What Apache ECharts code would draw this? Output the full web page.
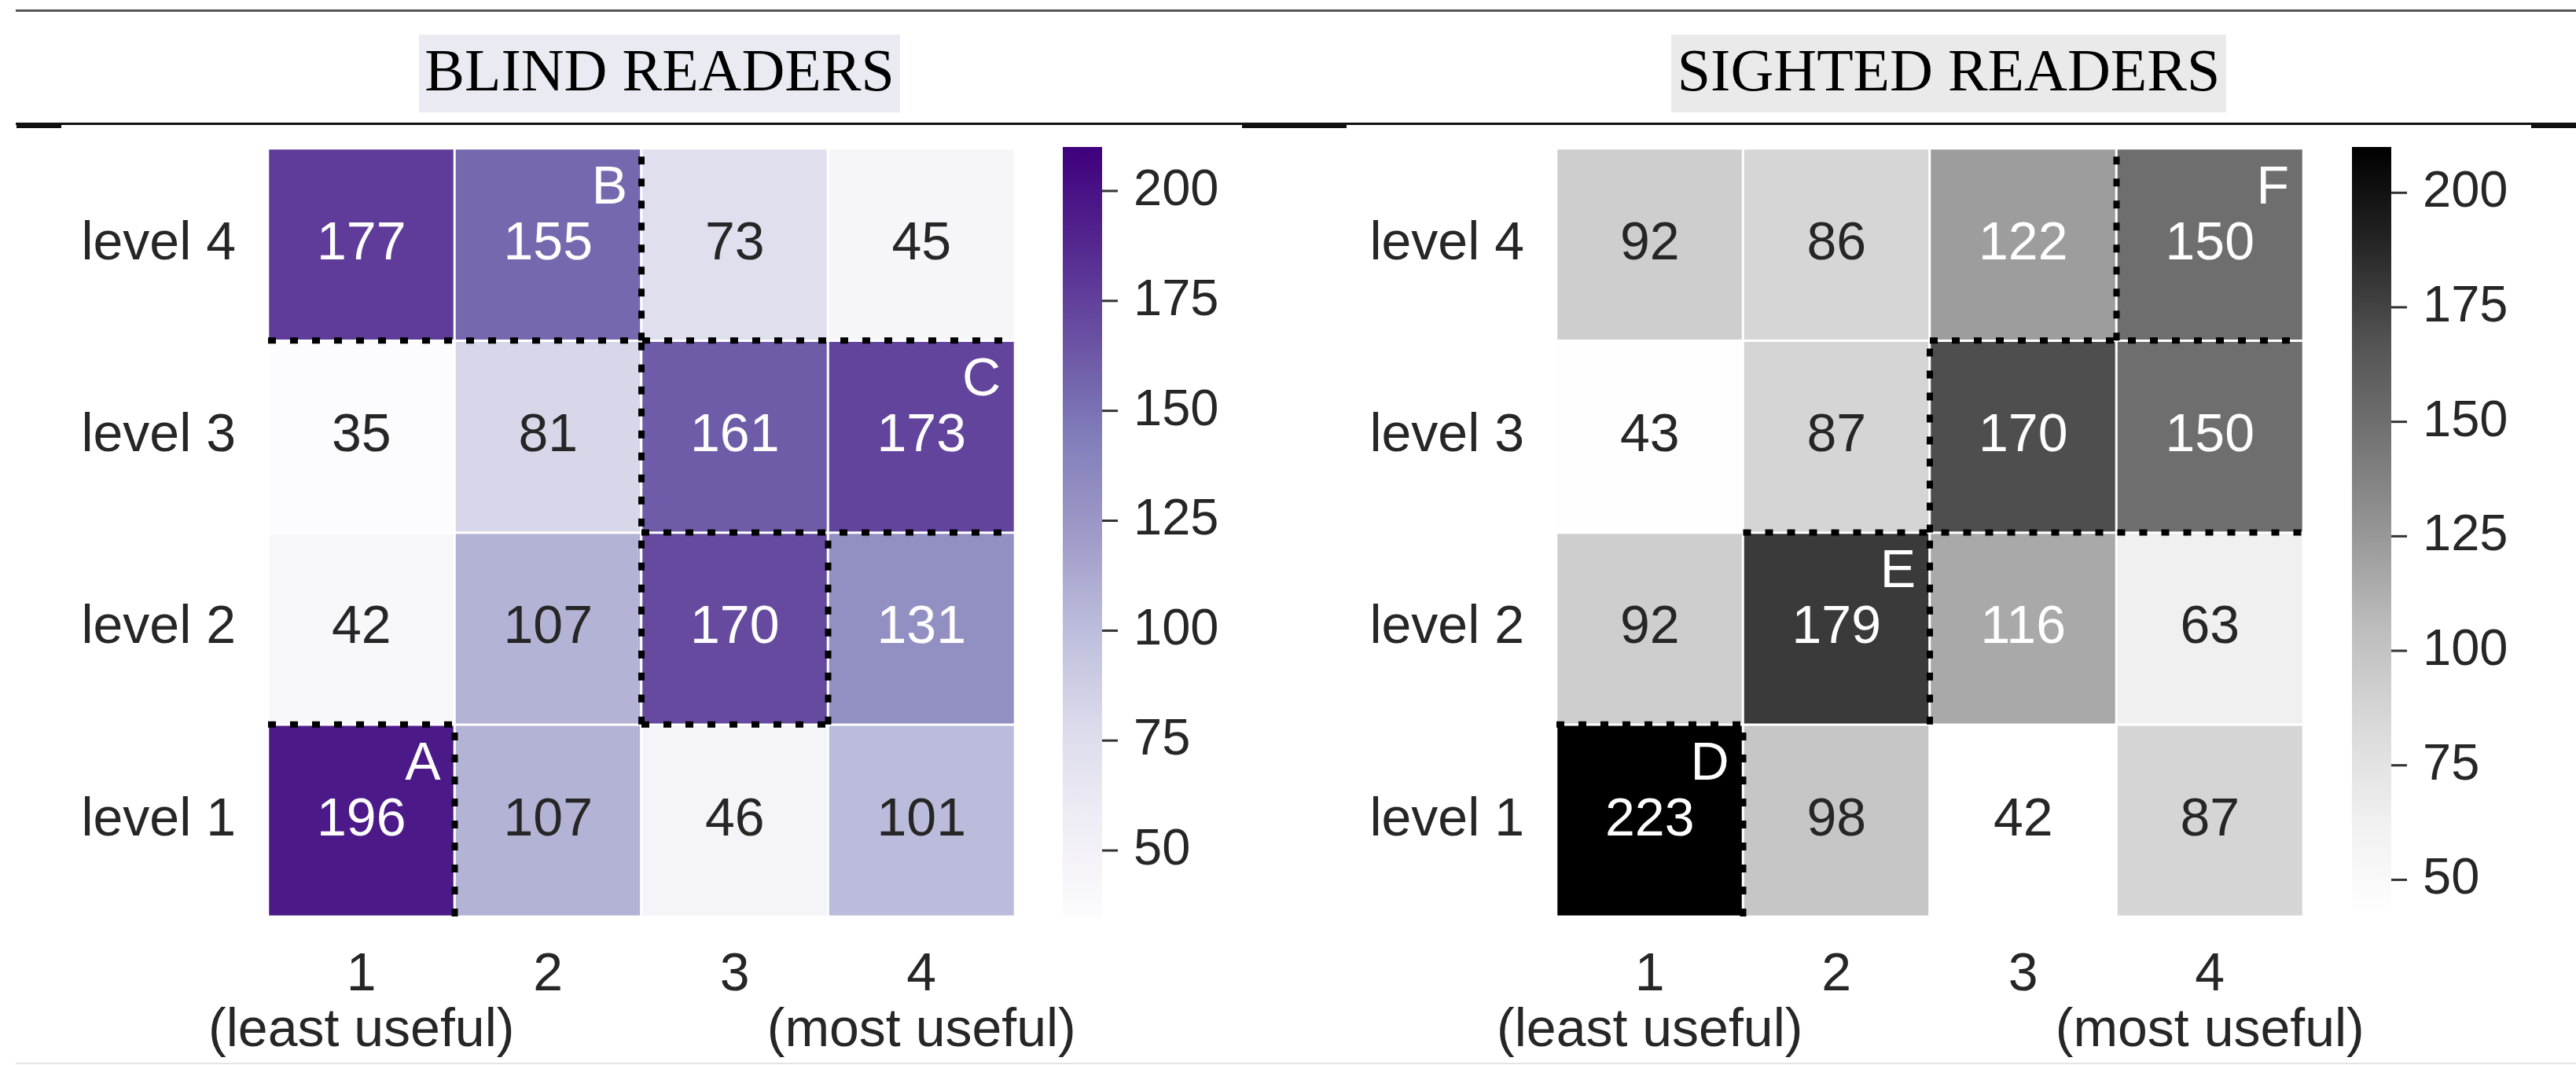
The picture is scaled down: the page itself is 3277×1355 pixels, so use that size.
<!DOCTYPE html>
<html>
<head>
<meta charset="utf-8">
<script src="https://cdn.jsdelivr.net/npm/echarts@6/dist/echarts.min.js"></script>
<style>
html,body{margin:0;padding:0;background:#fff;}
#chart{width:3277px;height:1355px;}
</style>
</head>
<body>
<div id="chart"></div>
<script>
// ---------------- data ----------------
const xCategories = ['1', '2', '3', '4'];
const xTickLabels = ['1\n(least useful)', '2', '3', '4\n(most useful)'];
const yCategories = ['level 1', 'level 2', 'level 3', 'level 4'];

// rows listed from level 1 (bottom) to level 4 (top), columns 1..4
const blindLevel1 = [196, 107, 46, 101];
const blindLevel2 = [42, 107, 170, 131];
const blindLevel3 = [35, 81, 161, 173];
const blindLevel4 = [177, 155, 73, 45];

const sightedLevel1 = [223, 98, 42, 87];
const sightedLevel2 = [92, 179, 116, 63];
const sightedLevel3 = [43, 87, 170, 150];
const sightedLevel4 = [92, 86, 122, 150];

const blindTitle = 'BLIND READERS';
const sightedTitle = 'SIGHTED READERS';

const blindRange = [35, 210];
const sightedRange = [42, 210];
const colorbarTicks = [50, 75, 100, 125, 150, 175, 200];

// annotated cells: [column, level, letter]
const blindMarks = [['1', 'level 1', 'A'], ['2', 'level 4', 'B'], ['4', 'level 3', 'C']];
const sightedMarks = [['1', 'level 1', 'D'], ['2', 'level 2', 'E'], ['4', 'level 4', 'F']];

// dotted region borders, in cell-boundary units: [x1, y1, x2, y2] (x: 0 = left edge, y: 0 = bottom edge)
const blindBorders = [
  [2, 3, 2, 4], [0, 3, 4, 3], [2, 1, 2, 3], [2, 2, 4, 2],
  [3, 1, 3, 2], [2, 1, 3, 1], [0, 1, 1, 1], [1, 0, 1, 1]
];
const sightedBorders = [
  [3, 3, 3, 4], [2, 3, 4, 3], [2, 2, 2, 3], [1, 2, 4, 2],
  [2, 1, 2, 2], [0, 1, 1, 1], [1, 0, 1, 1]
];

// ---------------- styles ----------------
const purples = ['#fcfbfd','#efedf5','#dadaeb','#bcbddc','#9e9ac8','#807dba','#6a51a3','#54278f','#3f007d'];
const greys = ['#ffffff','#f0f0f0','#d9d9d9','#bdbdbd','#969696','#737373','#525252','#252525','#000000'];
const FONT = '"Liberation Sans", Arial, Helvetica, sans-serif';
const SERIF = '"Liberation Serif", "Times New Roman", serif';
const FS = 68;
const TXT = '#262626';

function hexToRgb(h){ return [parseInt(h.substr(1,2),16), parseInt(h.substr(3,2),16), parseInt(h.substr(5,2),16)]; }
function cmap(colors, t){
  t = Math.max(0, Math.min(1, t));
  const n = colors.length - 1; const f = t * n; const i = Math.min(Math.floor(f), n - 1); const u = f - i;
  const a = hexToRgb(colors[i]), b = hexToRgb(colors[i+1]);
  return a.map((v, k) => v + (b[k] - v) * u);
}
function lum(rgb){
  const l = rgb.map(v => { const c = v / 255; return c <= 0.03928 ? c / 12.92 : Math.pow((c + 0.055) / 1.055, 2.4); });
  return 0.2126 * l[0] + 0.7152 * l[1] + 0.0722 * l[2];
}
function buildData(rows, colors, range){
  const out = [];
  rows.forEach((row, yi) => row.forEach((v, xi) => {
    const rgb = cmap(colors, (v - range[0]) / (range[1] - range[0]));
    out.push({ value: [xi, yi, v], label: { color: lum(rgb) > 0.408 ? TXT : '#ffffff' } });
  }));
  return out;
}
const blindData = buildData([blindLevel1, blindLevel2, blindLevel3, blindLevel4], purples, blindRange);
const sightedData = buildData([sightedLevel1, sightedLevel2, sightedLevel3, sightedLevel4], greys, sightedRange);

const GRID_TOP = 189, GRID_H = 977, GRID_W = 950;
const grids = [
  { left: 341, top: GRID_TOP, width: GRID_W, height: GRID_H },
  { left: 1980, top: GRID_TOP, width: GRID_W, height: GRID_H },
  { left: 1352, top: 187, width: 50, height: 979 },
  { left: 2992, top: 187, width: 50, height: 979 }
];

function catX(gi){
  return {
    type: 'category', gridIndex: gi, data: xCategories,
    axisLine: { show: false }, axisTick: { show: false }, splitLine: { show: false },
    axisLabel: { interval: 0, hideOverlap: false, margin: 40, fontSize: FS, lineHeight: 71, color: TXT, fontFamily: FONT,
      formatter: (v, i) => xTickLabels[i] }
  };
}
function catY(gi){
  return {
    type: 'category', gridIndex: gi, data: yCategories,
    axisLine: { show: false }, axisTick: { show: false }, splitLine: { show: false },
    axisLabel: { interval: 0, margin: 41, fontSize: FS, color: TXT, fontFamily: FONT }
  };
}
function cbX(gi){ return { type: 'value', gridIndex: gi, min: 0, max: 1, show: false }; }
function cbY(gi, range){
  return {
    type: 'value', gridIndex: gi, min: range[0], max: range[1], position: 'right',
    axisLine: { show: false }, splitLine: { show: false }, axisTick: { show: false },
    axisLabel: { margin: 40, fontSize: 65, color: TXT, fontFamily: FONT, customValues: colorbarTicks }
  };
}

function heat(gi, data){
  return {
    type: 'heatmap', xAxisIndex: gi, yAxisIndex: gi, data: data,
    label: { show: true, fontSize: FS, fontFamily: FONT },
    itemStyle: { borderColor: '#ffffff', borderWidth: 3 },
    emphasis: { disabled: true }
  };
}
function borders(gi, segs){
  return {
    type: 'custom', xAxisIndex: gi, yAxisIndex: gi, data: segs, clip: false, z: 5,
    encode: { x: [0, 2], y: [1, 3] }, silent: true,
    renderItem: (params, api) => {
      const o = api.coord([0, 0]); const s = api.size([1, 1]);
      const left = o[0] - s[0] / 2, bottom = o[1] + s[1] / 2;
      const seg = segs[params.dataIndex];
      return { type: 'line', shape: {
          x1: left + seg[0] * s[0], y1: bottom - seg[1] * s[1],
          x2: left + seg[2] * s[0], y2: bottom - seg[3] * s[1] },
        style: { stroke: '#000', lineWidth: 8, lineDash: [10, 18], lineCap: 'butt' } };
    }
  };
}
function marks(gi, list){
  return {
    type: 'custom', xAxisIndex: gi, yAxisIndex: gi, data: list.map(m => [m[0], m[1]]), clip: false, z: 6,
    silent: true,
    renderItem: (params, api) => {
      const m = list[params.dataIndex];
      const p = api.coord([xCategories.indexOf(m[0]), yCategories.indexOf(m[1])]);
      const s = api.size([1, 1]);
      return { type: 'text', style: { text: m[2], x: p[0] + s[0] / 2 - 18, y: p[1] - s[1] / 2 + 51,
        align: 'right', verticalAlign: 'middle', fill: '#ffffff', fontSize: FS, fontFamily: FONT } };
    }
  };
}
function colorbar(gi, range, colors){
  return {
    type: 'custom', xAxisIndex: gi, yAxisIndex: gi, data: [[0, range[0], 1, range[1]]],
    encode: { x: [0, 2], y: [1, 3] }, silent: true, clip: false,
    renderItem: (params, api) => {
      const p0 = api.coord([0, range[0]]); const p1 = api.coord([1, range[1]]);
      return { type: 'rect', shape: { x: p0[0], y: p1[1], width: p1[0] - p0[0], height: p0[1] - p1[1] },
        style: { fill: new echarts.graphic.LinearGradient(0, 1, 0, 0,
          colors.map((c, i) => ({ offset: i / (colors.length - 1), color: c }))) } };
    }
  };
}
function colorbarTickMarks(gi){
  return {
    type: 'custom', xAxisIndex: gi, yAxisIndex: gi, data: colorbarTicks.map(v => [1, v]),
    encode: { x: 0, y: 1 }, silent: true, clip: false, z: 4,
    renderItem: (params, api) => {
      const p = api.coord([1, api.value(1)]);
      return { type: 'line', shape: { x1: p[0], y1: p[1], x2: p[0] + 20, y2: p[1] },
        style: { stroke: '#333', lineWidth: 3 } };
    }
  };
}

const chart = echarts.init(document.getElementById('chart'), null, { renderer: 'canvas' });
chart.setOption({
  backgroundColor: '#ffffff',
  animation: false,
  grid: grids,
  xAxis: [catX(0), catX(1), cbX(2), cbX(3)],
  yAxis: [catY(0), catY(1), cbY(2, blindRange), cbY(3, sightedRange)],
  visualMap: [
    { type: 'continuous', show: false, seriesIndex: 0, dimension: 2, min: blindRange[0], max: blindRange[1], inRange: { color: purples } },
    { type: 'continuous', show: false, seriesIndex: 1, dimension: 2, min: sightedRange[0], max: sightedRange[1], inRange: { color: greys } }
  ],
  series: [
    heat(0, blindData), heat(1, sightedData),
    borders(0, blindBorders), borders(1, sightedBorders),
    marks(0, blindMarks), marks(1, sightedMarks),
    colorbar(2, blindRange, purples), colorbar(3, sightedRange, greys),
    colorbarTickMarks(2), colorbarTickMarks(3)
  ],
  graphic: [
    { type: 'rect', shape: { x: 20, y: 12, width: 3257, height: 3 }, style: { fill: '#555' }, silent: true },
    { type: 'rect', shape: { x: 20, y: 156, width: 3257, height: 3 }, style: { fill: '#111' }, silent: true },
    { type: 'rect', shape: { x: 21, y: 156, width: 57, height: 7 }, style: { fill: '#111' }, silent: true },
    { type: 'rect', shape: { x: 1580, y: 156, width: 133, height: 7 }, style: { fill: '#111' }, silent: true },
    { type: 'rect', shape: { x: 3220, y: 156, width: 57, height: 7 }, style: { fill: '#111' }, silent: true },
    { type: 'rect', shape: { x: 20, y: 1352, width: 3257, height: 2 }, style: { fill: '#e4e4e4' }, silent: true },
    { type: 'rect', shape: { x: 533, y: 44, width: 612, height: 99 }, style: { fill: '#eaeaf2' }, silent: true },
    { type: 'rect', shape: { x: 2126, y: 44, width: 706, height: 99 }, style: { fill: '#eaeaea' }, silent: true },
    { type: 'text', style: { text: blindTitle, x: 839, y: 95, align: 'center', verticalAlign: 'middle',
        fontSize: 76, fontFamily: SERIF, fill: '#000' }, silent: true },
    { type: 'text', style: { text: sightedTitle, x: 2479, y: 95, align: 'center', verticalAlign: 'middle',
        fontSize: 76, fontFamily: SERIF, fill: '#000' }, silent: true }
  ]
});
</script>
</body>
</html>
